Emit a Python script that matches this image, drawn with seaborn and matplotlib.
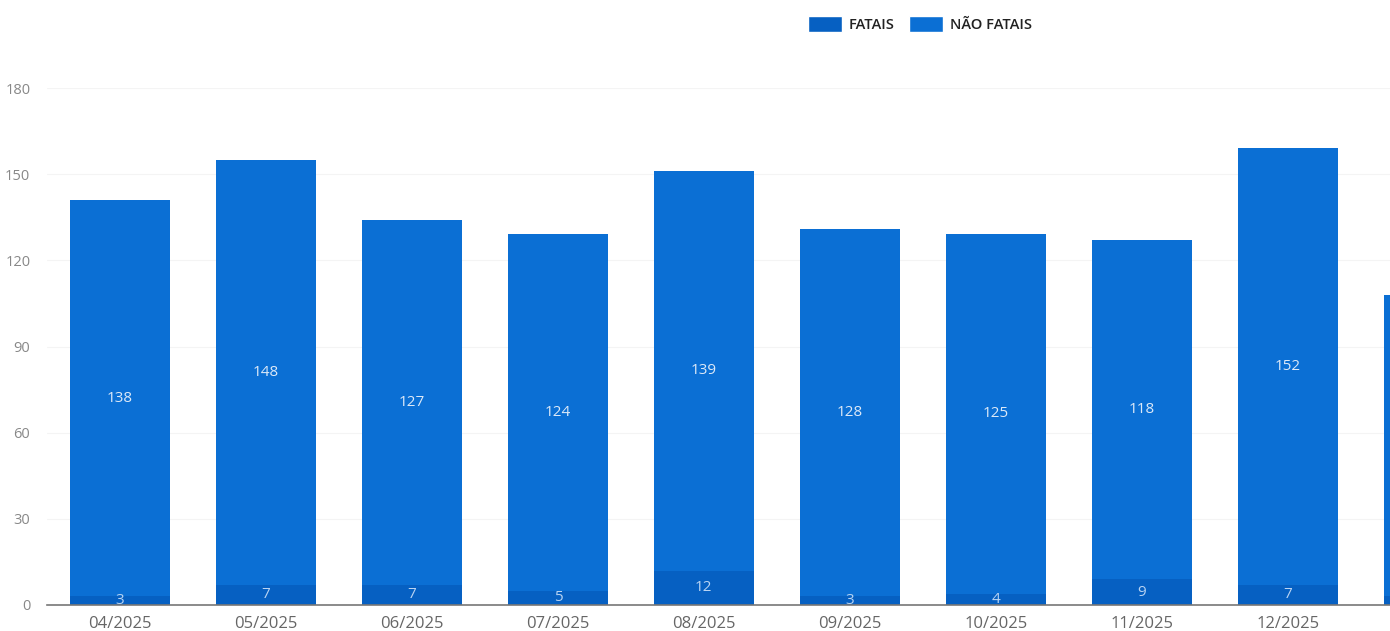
import matplotlib
matplotlib.use("Agg")
import matplotlib.pyplot as plt
import seaborn as sns
import pandas as pd
from matplotlib.patches import Patch

# dados (o último mês aparece cortado na borda direita)
meses = ["04/2025", "05/2025", "06/2025", "07/2025", "08/2025",
         "09/2025", "10/2025", "11/2025", "12/2025", "01/2026"]
fatais = [3, 7, 7, 5, 12, 3, 4, 9, 7, 3]
nao_fatais = [138, 148, 127, 124, 139, 128, 125, 118, 152, 105]

cor_nao_fatais = "#0b6fd4"
cor_fatais = "#0660c2"

df = pd.DataFrame({"mes": meses, "fatais": fatais, "nao_fatais": nao_fatais})
df["total"] = df["fatais"] + df["nao_fatais"]

sns.set_theme(style="white")
plt.rcParams["font.family"] = ["Open Sans", "DejaVu Sans"]

fig = plt.figure(figsize=(13.9, 6.31), dpi=100)
ax = fig.add_axes([47 / 1390, 26 / 631, 1 - 47 / 1390, 517 / 631])

largura = 0.685
sns.barplot(data=df, x="mes", y="total", color=cor_nao_fatais, width=largura,
            saturation=1, ax=ax, order=meses, linewidth=0, edgecolor="none")
sns.barplot(data=df, x="mes", y="fatais", color=cor_fatais, width=largura,
            saturation=1, ax=ax, order=meses, linewidth=0, edgecolor="none")

x_max = 8.70

# rótulos de valor no meio de cada segmento (só nas barras visíveis)
for i, (f, nf) in enumerate(zip(fatais, nao_fatais)):
    if i + 0.3 > x_max:
        continue
    ax.text(i, f + nf / 2, str(nf), ha="center", va="center",
            color="#dce9f8", fontsize=11)
    ax.text(i, f / 2, str(f), ha="center", va="center",
            color="#b9d4f3", fontsize=11)

ax.set_yticks(range(0, 181, 30))
ax.set_xlabel("")
ax.set_ylabel("")
ax.yaxis.grid(True, color="#f4f4f4", linewidth=0.8)
ax.set_axisbelow(True)

for lado in ["top", "right", "left"]:
    ax.spines[lado].set_visible(False)
ax.spines["bottom"].set_color("#777777")
ax.spines["bottom"].set_linewidth(1.2)

ax.set_xticks(range(len(meses)))
ax.set_xticklabels(meses)
ax.set_xticks([i - 0.5 for i in range(len(meses) + 1)], minor=True)
ax.tick_params(axis="x", which="major", length=0, pad=8,
               labelsize=12, labelcolor="#666666")
ax.tick_params(axis="x", which="minor", length=5, width=1, color="#777777",
               direction="out")
ax.tick_params(axis="y", length=0, pad=12, labelsize=10.5,
               labelcolor="#888888")

# limites por último (set_xticks amplia a vista)
ax.set_xlim(-0.5, x_max)
ax.set_ylim(0, 180)

handles = [Patch(facecolor=cor_fatais, label="FATAIS"),
           Patch(facecolor=cor_nao_fatais, label="NÃO FATAIS")]
fig.legend(handles=handles, loc="center", bbox_to_anchor=(0.662, 0.962),
           ncol=2, frameon=False, handlelength=2.3, handleheight=1.3,
           handletextpad=0.5, columnspacing=1.0,
           prop={"size": 10.5, "weight": "semibold"}, labelcolor="#222222")

plt.savefig("out.png", dpi=100)
plt.close()
